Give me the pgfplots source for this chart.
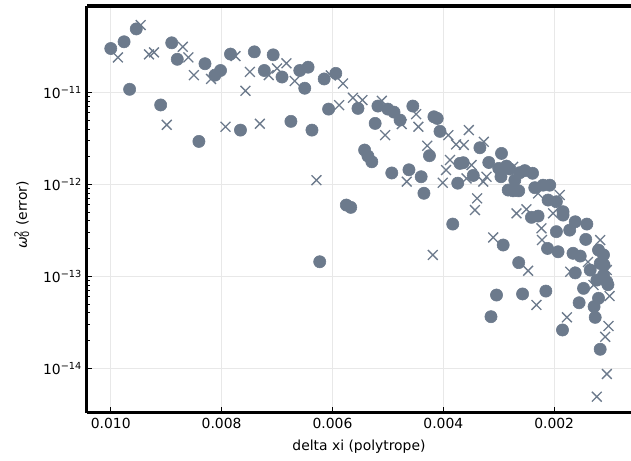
\documentclass[border=0pt]{standalone}
\usepackage{fontspec}
\setmainfont{DejaVu Sans}
\usepackage{pgfplots}
\pgfplotsset{compat=1.18}
\definecolor{slate}{RGB}{108,122,140}

\begin{document}
\begin{tikzpicture}
\begin{axis}[
    scale only axis, width=391.7pt, height=293pt,
    x dir=reverse, xmin=0.000614, xmax=0.01043,
    ymode=log, ymin=3.27e-15, ymax=8.7e-11,
    separate axis lines,
    axis x line=box, axis y line=left,
    axis line style={-, line width=2.2pt, black},
    xtick pos=lower,
    tick align=inside,
    tick style={black, line width=0.7pt},
    major tick length=4pt, minor tick length=2.2pt,
    xtick={0.010,0.008,0.006,0.004,0.002},
    xticklabels={0.010,0.008,0.006,0.004,0.002},
    ytick={1e-14,1e-13,1e-12,1e-11},
    yticklabels={10\textsuperscript{−14},10\textsuperscript{−13},10\textsuperscript{−12},10\textsuperscript{−11}},
    scaled x ticks=false,
    grid=major,
    major grid style={gray!18, line width=0.6pt},
    xlabel={delta xi (polytrope)},
    ylabel={{\itshape ω}\rlap{\textsuperscript{2}}\textsubscript{0} (error)},
    xlabel style={at={(axis description cs:0.5,-0.0836)}, anchor=center},
    ylabel style={at={(axis description cs:-0.1195,0.4865)}, anchor=center, rotate=0},
    ticklabel style={font=\fontsize{10}{12}\selectfont},
    label style={font=\fontsize{10}{12}\selectfont},
]
\addplot[only marks, mark=*, mark size=4.4pt, color=slate, mark options={draw=slate, fill=slate}]
coordinates {
(0.01000,3.0e-11) (0.00976,3.55e-11) (0.00954,4.9e-11) (0.00966,1.08e-11)
(0.00910,7.3e-12) (0.00890,3.46e-11) (0.00880,2.29e-11) (0.00841,2.93e-12)
(0.00830,2.05e-11) (0.00812,1.54e-11) (0.00802,1.73e-11) (0.00784,2.61e-11)
(0.00766,3.89e-12) (0.00741,2.76e-11) (0.00723,1.73e-11) (0.00707,2.56e-11)
(0.00691,1.47e-11) (0.00675,4.84e-12) (0.00659,1.73e-11) (0.00644,1.88e-11)
(0.00650,1.11e-11) (0.00637,3.89e-12) (0.00615,1.40e-11) (0.00607,6.58e-12)
(0.00594,1.61e-11) (0.00575,5.96e-13) (0.00567,5.62e-13) (0.00554,6.7e-12)
(0.00623,1.44e-13) (0.00523,4.6e-12) (0.00518,7.1e-12) (0.00500,6.58e-12)
(0.00489,6.1e-12) (0.00478,5.0e-12) (0.00455,7.1e-12) (0.00417,5.43e-12)
(0.00411,5.21e-12) (0.00406,3.77e-12) (0.00542,2.36e-12) (0.00536,2.03e-12)
(0.00529,1.76e-12) (0.00493,1.33e-12) (0.00462,1.44e-12) (0.00440,1.21e-12)
(0.00435,8.0e-13) (0.00425,2.05e-12) (0.00374,1.03e-12) (0.00370,1.69e-12)
(0.00364,1.72e-12) (0.00346,1.25e-12) (0.00334,2.5e-12) (0.00318,1.73e-12)
(0.00300,1.49e-12) (0.00295,2.17e-12) (0.00296,1.21e-12) (0.00286,1.58e-12)
(0.00280,1.47e-12) (0.00271,1.11e-12) (0.00262,1.34e-12) (0.00253,1.41e-12)
(0.00239,1.32e-12) (0.00283,8.67e-13) (0.00274,8.5e-13) (0.00264,8.5e-13)
(0.00235,9.2e-13) (0.00220,9.8e-13) (0.00208,9.8e-13) (0.00211,6.75e-13)
(0.00196,6.47e-13) (0.00184,5.04e-13) (0.00383,3.7e-13) (0.00292,2.19e-13)
(0.00264,1.41e-13) (0.00304,6.26e-14) (0.00314,3.64e-14) (0.00257,6.43e-14)
(0.00215,6.91e-14) (0.00185,2.61e-14) (0.00241,4.38e-13) (0.00229,4.52e-13)
(0.00184,4.63e-13) (0.00196,3.06e-13) (0.00212,2.01e-13) (0.00193,1.85e-13)
(0.00172,3.18e-13) (0.00162,3.92e-13) (0.00141,3.7e-13) (0.00143,2.52e-13)
(0.00166,1.78e-13) (0.00153,1.66e-13) (0.00162,1.09e-13) (0.00135,1.17e-13)
(0.00120,1.93e-13) (0.00111,1.71e-13) (0.00117,1.38e-13) (0.00111,1.03e-13)
(0.00105,8.73e-14) (0.00123,9.1e-14) (0.00147,7.4e-14) (0.00120,5.77e-14)
(0.00155,5.16e-14) (0.00128,4.68e-14) (0.00126,3.58e-14) (0.00117,1.61e-14)
(0.00103,8.1e-14) (0.00110,1.33e-13)
};
\addplot[only marks, mark=x, mark size=5pt, color=slate, mark options={line width=0.95pt}]
coordinates {
(0.00987,2.4e-11) (0.00946,5.4e-11) (0.00931,2.59e-11) (0.00922,2.72e-11)
(0.00899,4.44e-12) (0.00870,3.13e-11) (0.00860,2.4e-11) (0.00850,1.54e-11)
(0.00819,1.4e-11) (0.00793,4.23e-12) (0.00775,2.48e-11) (0.00757,1.04e-11)
(0.00749,1.67e-11) (0.00731,4.56e-12) (0.00715,1.54e-11) (0.00700,1.82e-11)
(0.00683,2.07e-11) (0.00668,1.33e-11) (0.00629,1.11e-12) (0.00603,1.53e-11)
(0.00588,7.27e-12) (0.00581,1.25e-11) (0.00563,8.73e-12) (0.00546,8.25e-12)
(0.00511,8.1e-12) (0.00505,3.43e-12) (0.00475,4.52e-12) (0.00449,5.8e-12)
(0.00445,4.23e-12) (0.00429,2.63e-12) (0.00391,3.43e-12) (0.00377,2.72e-12)
(0.00363,2.68e-12) (0.00354,3.89e-12) (0.00388,1.84e-12) (0.00395,1.43e-12)
(0.00401,1.04e-12) (0.00466,1.07e-12) (0.00358,1.16e-12) (0.00349,1.62e-12)
(0.00328,1.07e-12) (0.00322,1.21e-12) (0.00327,2.9e-12) (0.00274,1.55e-12)
(0.00339,7.05e-13) (0.00343,5.26e-13) (0.00268,4.84e-13) (0.00250,5.35e-13)
(0.00190,7.66e-13) (0.00202,4.84e-13) (0.00229,7.98e-13) (0.00419,1.71e-13)
(0.00310,2.65e-13) (0.00223,3.33e-13) (0.00222,2.48e-13) (0.00247,1.15e-13)
(0.00232,4.88e-14) (0.00171,1.12e-13) (0.00177,3.58e-14) (0.00129,8.04e-14)
(0.00105,1.17e-13) (0.00100,6.1e-14) (0.00102,2.88e-14) (0.00108,2.2e-14)
(0.00105,8.67e-15) (0.00123,4.91e-15) (0.00139,1.43e-13) (0.00117,2.48e-13)
};
\end{axis}
\pgfresetboundingbox
\path ([xshift=-62.6pt,yshift=-34pt]current axis.south west) rectangle ([yshift=4.3pt]current axis.north east);
\end{tikzpicture}
\end{document}
